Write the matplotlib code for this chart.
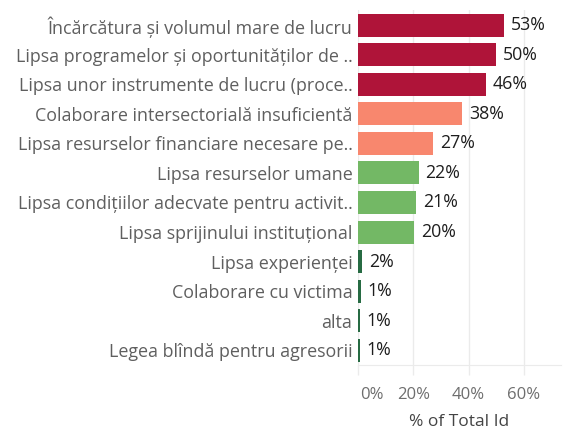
import matplotlib
matplotlib.use("Agg")
import matplotlib.pyplot as plt
import matplotlib.transforms as mtransforms

plt.rcParams['font.family'] = ['Open Sans', 'DejaVu Sans']

categories = [
    "Încărcătura și volumul mare de lucru",
    "Lipsa programelor și oportunităților de ..",
    "Lipsa unor instrumente de lucru (proce..",
    "Colaborare intersectorială insuficientă",
    "Lipsa resurselor financiare necesare pe..",
    "Lipsa resurselor umane",
    "Lipsa condițiilor adecvate pentru activit..",
    "Lipsa sprijinului instituțional",
    "Lipsa experienței",
    "Colaborare cu victima",
    "alta",
    "Legea blîndă pentru agresorii",
]
values = [52.9, 50.1, 46.4, 37.7, 27.3, 21.9, 21.1, 20.4, 1.6, 1.1, 0.6, 0.6]
groups = ["high", "high", "high", "mid", "mid", "low", "low", "low",
          "min", "min", "min", "min"]
xticks = [0, 20, 40, 60]

palette = {"high": "#AF1439", "mid": "#F8876E", "low": "#73B865",
           "min": "#276B43"}
grid_col = "#ebebeb"

fig = plt.figure(figsize=(5.64, 4.33), dpi=100)
ax = fig.add_axes([0.6348, 0.157, 0.36, 0.819])

ypos = list(range(len(categories)))
ax.barh(ypos, values, height=0.78, color=[palette[g] for g in groups],
        zorder=2)

for y, v in zip(ypos, values):
    ax.text(v + 2.4, y, f"{round(v)}%", va="center", ha="left",
            fontsize=12.8, color="#1e1e1e", zorder=3)

ax.set_ylim(len(categories) - 0.5, -0.5)
ax.set_xlim(0, 73.5)
ax.set_yticks(ypos)
ax.set_yticklabels(categories, fontsize=12.9, color="#5f5f5f")
ax.tick_params(axis="y", length=0, pad=4)

ax.set_xticks(xticks)
ax.set_xticklabels([f"{t}%" for t in xticks], fontsize=12, color="#6e6e6e")
ax.tick_params(axis="x", length=7, width=1, color=grid_col, pad=9)
# nudge the 0% label right so it clears the bars' origin
lbl0 = ax.get_xticklabels()[0]
lbl0.set_transform(lbl0.get_transform() +
                   mtransforms.ScaledTranslation(14 / 100, 0, fig.dpi_scale_trans))

ax.grid(axis="x", color=grid_col, linewidth=1, zorder=0)
for side in ("top", "right", "left"):
    ax.spines[side].set_visible(False)
ax.spines["bottom"].set_color(grid_col)

ax.set_xlabel("% of Total Id", fontsize=12.5, color="#444444", labelpad=8)

fig.savefig("out.png", dpi=100)
